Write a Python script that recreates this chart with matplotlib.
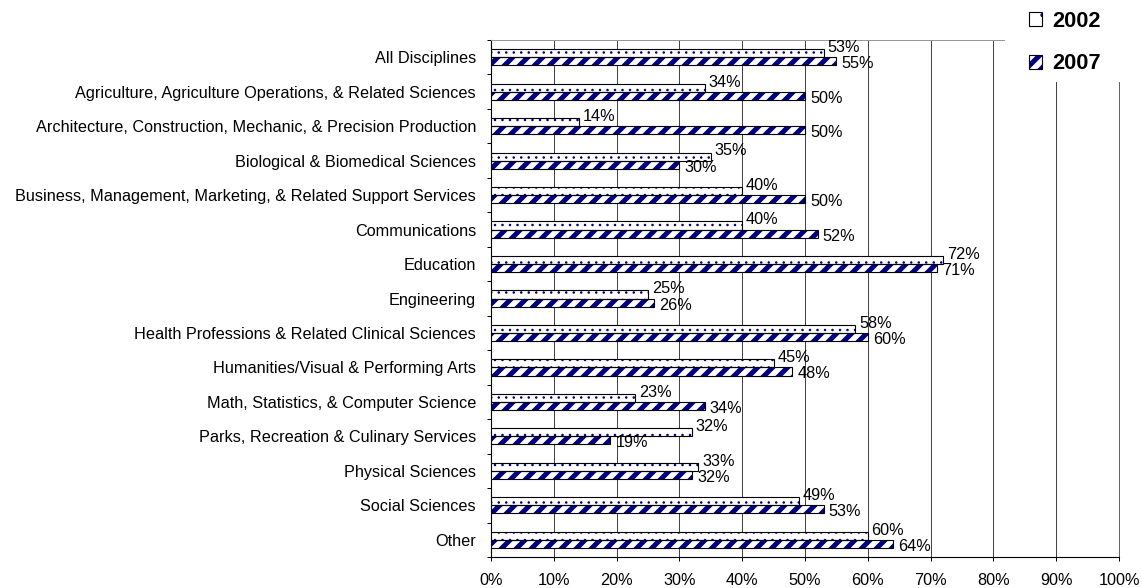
import matplotlib
matplotlib.use("Agg")
import matplotlib.pyplot as plt
import numpy as np
from matplotlib.patches import Patch, Rectangle
from matplotlib.ticker import FixedLocator, PercentFormatter

categories = [
    "All Disciplines",
    "Agriculture, Agriculture Operations, & Related Sciences",
    "Architecture, Construction, Mechanic, & Precision Production",
    "Biological & Biomedical Sciences",
    "Business, Management, Marketing, & Related Support Services",
    "Communications",
    "Education",
    "Engineering",
    "Health Professions & Related Clinical Sciences",
    "Humanities/Visual & Performing Arts",
    "Math, Statistics, & Computer Science",
    "Parks, Recreation & Culinary Services",
    "Physical Sciences",
    "Social Sciences",
    "Other",
]
v2002 = [53, 34, 14, 35, 40, 40, 72, 25, 58, 45, 23, 32, 33, 49, 60]
v2007 = [55, 50, 50, 30, 50, 52, 71, 26, 60, 48, 34, 19, 32, 53, 64]
series_names = ["2002", "2007"]

DPI = 90
W, H = 1142, 588
plt.rcParams["font.family"] = ["Liberation Sans", "DejaVu Sans"]
NAVY = "#000080"

fig = plt.figure(figsize=(W / DPI, H / DPI), dpi=DPI)
ax = fig.add_axes([491 / W, 1 - 557 / H, (1119 - 491) / W, (557 - 40) / H])

y = np.arange(len(categories))
bh = 0.235

# 2002 bars: white with navy dots
with plt.rc_context({"hatch.linewidth": 0.8}):
    ax.barh(y - bh / 2, np.array(v2002) / 100, height=bh, color="white",
            edgecolor=NAVY, linewidth=0, hatch="..", zorder=3)
ax.barh(y - bh / 2, np.array(v2002) / 100, height=bh, fill=False,
        edgecolor="black", linewidth=0.9, zorder=4)

# 2007 bars: navy diagonal stripes
with plt.rc_context({"hatch.linewidth": 4.0}):
    ax.barh(y + bh / 2, np.array(v2007) / 100, height=bh, color="white",
            edgecolor=NAVY, linewidth=0, hatch="//", zorder=3)
ax.barh(y + bh / 2, np.array(v2007) / 100, height=bh, fill=False,
        edgecolor="black", linewidth=0.9, zorder=4)

fs = 13.05
for yi, v in zip(y, v2002):
    ax.annotate(f"{v}%", (v / 100, yi - bh / 2), xytext=(3, 4.5),
                textcoords="offset points", ha="left", va="center",
                fontsize=fs, zorder=6)
for yi, v in zip(y, v2007):
    ax.annotate(f"{v}%", (v / 100, yi + bh / 2), xytext=(4, -2),
                textcoords="offset points", ha="left", va="center",
                fontsize=fs, zorder=6)

ax.set_xlim(0, 1)
ax.set_ylim(len(categories) - 0.5, -0.5)
ax.set_xticks(np.linspace(0, 1, 11))
ax.xaxis.set_major_formatter(PercentFormatter(1.0, decimals=0))
ax.set_yticks(y)
ax.set_yticklabels(categories)
ax.yaxis.set_minor_locator(FixedLocator(np.arange(-0.5, len(categories), 1)))
ax.tick_params(axis="y", which="major", length=0, pad=12, labelsize=fs)
ax.tick_params(axis="y", which="minor", length=3.5, width=0.8, direction="out")
ax.tick_params(axis="x", which="major", length=3.5, width=0.8, pad=9.5, labelsize=fs)

ax.grid(axis="x", color="#444444", linewidth=0.8, zorder=0)
ax.set_axisbelow(True)
ax.spines["top"].set_color("#999999")
ax.spines["top"].set_linewidth(0.8)
ax.spines["right"].set_color("#666666")
ax.spines["right"].set_linewidth(0.8)
ax.spines["left"].set_linewidth(0.9)
ax.spines["bottom"].set_linewidth(0.9)

# legend area (white box covers grid at top right)
fig.patches.append(Rectangle((1005 / W, 1 - 82 / H), (W - 1005) / W, 82 / H,
                             transform=fig.transFigure, facecolor="white",
                             edgecolor="none", zorder=4))
h2002 = (Patch(facecolor="white", edgecolor=NAVY, hatch=".", linewidth=0),
         Patch(fill=False, edgecolor="black", linewidth=0.9))
h2007 = (Patch(facecolor="white", edgecolor=NAVY, hatch="//", linewidth=0),
         Patch(fill=False, edgecolor="black", linewidth=0.9))
leg = fig.legend([h2002, h2007], series_names, loc="upper left",
                 bbox_to_anchor=(1029 / W, 1 - 11 / H), frameon=False,
                 prop={"weight": "bold", "size": 17.5}, handlelength=0.6,
                 handleheight=0.6, handletextpad=0.45, labelspacing=0.98,
                 borderpad=0, borderaxespad=0)
leg.set_zorder(5)
for p in leg.findobj(Rectangle):
    if p.get_hatch() == "//":
        if hasattr(p, "set_hatch_linewidth"):
            p.set_hatch_linewidth(4.0)
        else:
            p._hatch_linewidth = 4.0

fig.savefig("out.png", dpi=DPI)
